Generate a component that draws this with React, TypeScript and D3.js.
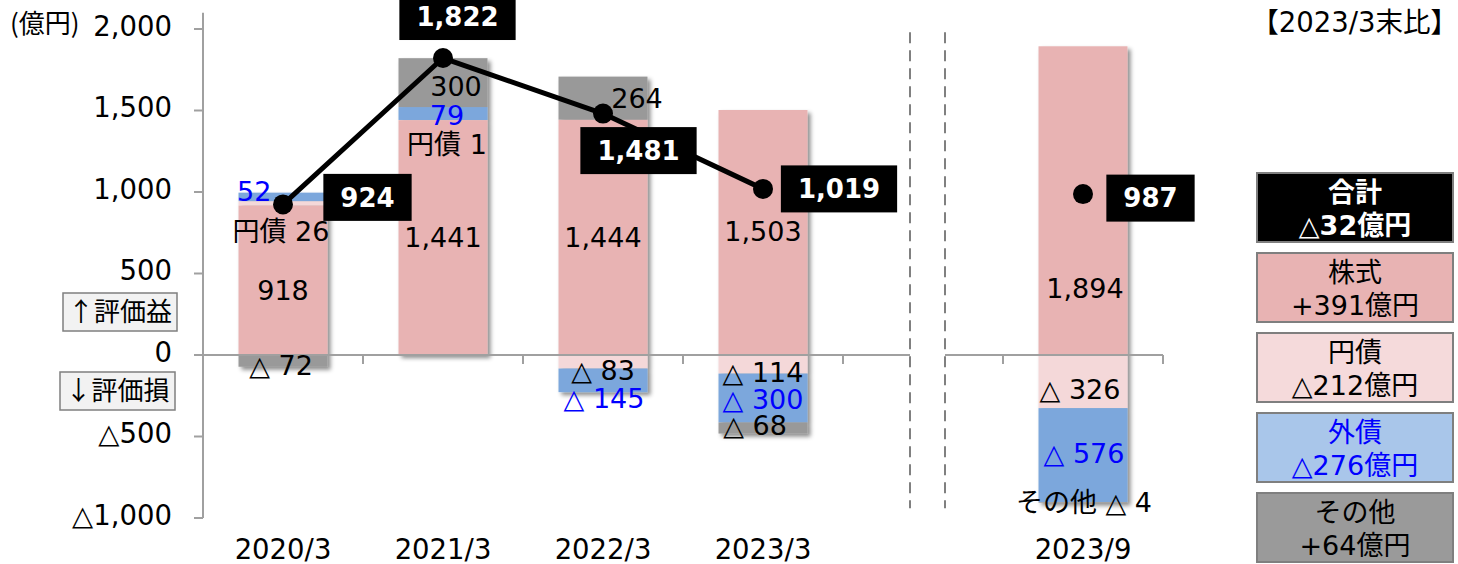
import React from 'react';
import * as d3 from 'd3';

// ---- data ----
const categories = ["2020/3", "2021/3", "2022/3", "2023/3", "2023/9"];
const slots = ["2020/3", "2021/3", "2022/3", "2023/3", "gap", "2023/9"];
const stocks = [918, 1441, 1444, 1503, 1894];
const yenBonds = [26, 1, -83, -114, -326];
const foreignBonds = [52, 79, -145, -300, -576];
const others = [-72, 300, 264, -68, -4];
const totals = [924, 1822, 1481, 1019, 987];
const connected = [true, true, true, true, false];
const yTicks = [-1000, -500, 0, 500, 1000, 1500, 2000];
const seriesKeys = ["stocks", "yenBonds", "foreignBonds", "others"];
const legendNames = ["合計", "株式", "円債", "外債", "その他"];
const legendChanges = ["△32億円", "+391億円", "△212億円", "△276億円", "+64億円"];
const unitLabel = "(億円)";
const compareLabel = "【2023/3末比】";
const gainLabel = "↑評価益";
const lossLabel = "↓評価損";

// ---- styles / layout ----
const W = 1458, H = 564;
const FONT = "'DejaVu Sans', 'Noto Sans CJK JP', sans-serif";
const CJK = "'Noto Sans CJK JP', sans-serif";
const barColors: Record<string, string> = {
  stocks: "#e8b3b3",
  yenBonds: "#f4d8d9",
  foreignBonds: "#7ba7dc",
  others: "#999999",
};
const legendFills = ["#000000", "#e8b3b3", "#f5dadb", "#a9c6ea", "#9a9a9a"];
const legendText = ["#ffffff", "#000000", "#000000", "#0000ff", "#000000"];
const BLUE = "#0000ff";
const AXIS = "#a0a0a0";

const labelLayout = [
  { s: "stocks", c: 0, dx: 0, dy: 10 },
  { s: "yenBonds", c: 0, dx: -2, dy: 28, prefix: "円債 " },
  { s: "foreignBonds", c: 0, dx: -46, dy: -6, anchor: "start" },
  { s: "others", c: 0, dx: -2, dy: 4 },
  { s: "stocks", c: 1, dx: 0, dy: 0 },
  { s: "yenBonds", c: 1, dx: 4, dy: 24, prefix: "円債 " },
  { s: "foreignBonds", c: 1, dx: 4, dy: 2 },
  { s: "others", c: 1, dx: 13, dy: 4 },
  { s: "stocks", c: 2, dx: 0, dy: 0 },
  { s: "others", c: 2, dx: 34, dy: 0 },
  { s: "yenBonds", c: 2, dx: 0, dy: 9 },
  { s: "foreignBonds", c: 2, dx: 1, dy: 18 },
  { s: "stocks", c: 3, dx: 0, dy: -1 },
  { s: "yenBonds", c: 3, dx: 0, dy: 8 },
  { s: "foreignBonds", c: 3, dx: 0, dy: 1 },
  { s: "others", c: 3, dx: -8, dy: -3 },
  { s: "stocks", c: 4, dx: 2, dy: 88 },
  { s: "yenBonds", c: 4, dx: -3, dy: 8 },
  { s: "foreignBonds", c: 4, dx: 1, dy: -2 },
  { s: "others", c: 4, dx: 1, dy: 0, prefix: "その他 " },
];
const totalBoxOffsets = [
  { dx: 84.5, dy: -7 },
  { dx: 14.5, dy: -41.5 },
  { dx: 35.5, dy: 37 },
  { dx: 76, dy: 0 },
  { dx: 67.5, dy: 4 },
];

const fmt = d3.format(",");
const fmtLabel = (v: number) => (v < 0 ? "△ " + fmt(-v) : fmt(v));
const fmtTick = (v: number) => (v < 0 ? "△" + fmt(-v) : fmt(v));
const boldWidth = (s: string, size: number) =>
  s.split("").reduce((a, ch) => a + (ch === "," ? 0.38 : 0.696), 0) * size;

export default function App() {
  const x = d3.scaleBand<string>().domain(slots).range([203, 1163]).padding(0);
  const y = d3.scaleLinear().domain([-1000, 2000]).range([518, 29]);
  const barW = 89;
  const cx = (i: number) => (x(categories[i]) as number) + x.bandwidth() / 2;

  const seriesData: Record<string, number[]> = { stocks, yenBonds, foreignBonds, others };
  const rows = categories.map((_, i) => {
    const r: Record<string, number> = {};
    seriesKeys.forEach((k) => (r[k] = seriesData[k][i]));
    return r;
  });
  const stacked = d3.stack<Record<string, number>>().keys(seriesKeys).offset(d3.stackOffsetDiverging)(rows);
  const stackByKey: Record<string, d3.Series<Record<string, number>, string>> = {};
  stacked.forEach((s) => (stackByKey[s.key] = s));

  const gapX = x("gap") as number;
  const dash1 = gapX + 67;
  const dash2 = gapX + 102;
  const y0 = y(0);

  const linePts = totals.map((t, i) => [cx(i), y(t)] as [number, number]).filter((_, i) => connected[i]);
  const line = d3.line();

  const legendTop = 173, legendH = 69, legendGap = 11, legendX = 1257, legendW = 196;

  return (
    <svg width={W} height={H} style={{ position: "absolute", left: 0, top: 0, background: "#fff" }} fontFamily={FONT}>
      <defs>
        <filter id="shadow" x="-20%" y="-20%" width="140%" height="140%">
          <feDropShadow dx="3" dy="3" stdDeviation="2.2" floodColor="#000" floodOpacity="0.45" />
        </filter>
      </defs>

      {/* bars */}
      {categories.map((c, i) => (
        <g key={c} filter="url(#shadow)">
          {seriesKeys.map((k) => {
            const d = stackByKey[k][i];
            const top = y(Math.max(d[0], d[1]));
            const bot = y(Math.min(d[0], d[1]));
            if (bot - top <= 0) return null;
            return <rect key={k} x={cx(i) - barW / 2} y={top} width={barW} height={bot - top} fill={barColors[k]} />;
          })}
        </g>
      ))}

      {/* y axis */}
      <line x1={203} x2={203} y1={y(2100)} y2={y(-1000)} stroke={AXIS} strokeWidth={2} />
      {yTicks.map((t) => (
        <g key={t}>
          <line x1={194} x2={203} y1={y(t)} y2={y(t)} stroke={AXIS} strokeWidth={2} />
          <text x={172} y={y(t) - 3} dy="0.36em" textAnchor="end" fontSize={27.5} fill="#000">
            {fmtTick(t)}
          </text>
        </g>
      ))}

      {/* x axis */}
      <line x1={203} x2={dash1} y1={y0} y2={y0} stroke={AXIS} strokeWidth={2} />
      <line x1={dash2} x2={1163} y1={y0} y2={y0} stroke={AXIS} strokeWidth={2} />
      {slots.map((s) => {
        const bx = (x(s) as number) + x.bandwidth();
        return <line key={s} x1={bx} x2={bx} y1={y0} y2={y0 + 9} stroke={AXIS} strokeWidth={2} />;
      })}
      {categories.map((c, i) => (
        <text key={c} x={cx(i)} y={y(-1000) + 31} dy="0.36em" textAnchor="middle" fontSize={27.5}>
          {c}
        </text>
      ))}

      {/* dashed separators */}
      {[dash1, dash2].map((dx, k) => (
        <line key={k} x1={dx} x2={dx} y1={y(1980)} y2={y(-940)} stroke="#808080" strokeWidth={2} strokeDasharray="11 7" />
      ))}

      {/* segment labels */}
      {labelLayout.map((l, j) => {
        const d = stackByKey[l.s][l.c];
        const v = seriesData[l.s][l.c];
        const yy = y((d[0] + d[1]) / 2) + l.dy;
        return (
          <text
            key={j}
            x={cx(l.c) + l.dx}
            y={yy}
            dy="0.36em"
            textAnchor={(l as any).anchor || "middle"}
            fontSize={27}
            fill={l.s === "foreignBonds" ? BLUE : "#000"}
          >
            {((l as any).prefix || "") + fmtLabel(v)}
          </text>
        );
      })}

      {/* total line */}
      <path d={line(linePts) || ""} fill="none" stroke="#000" strokeWidth={5} strokeLinejoin="round" />
      {totals.map((t, i) => (
        <circle key={i} cx={cx(i)} cy={y(t)} r={10} fill="#000" />
      ))}
      {totals.map((t, i) => {
        const s = fmt(t);
        const bw = boldWidth(s, 26) + 34;
        const bx = cx(i) + totalBoxOffsets[i].dx;
        const by = y(t) + totalBoxOffsets[i].dy;
        return (
          <g key={"tb" + i}>
            <rect x={bx - bw / 2} y={by - 23.5} width={bw} height={47} fill="#000" />
            <text x={bx} y={by} dy="0.36em" textAnchor="middle" fontSize={26} fontWeight="bold" fill="#fff">
              {s}
            </text>
          </g>
        );
      })}

      {/* unit, gain/loss tags */}
      <text x={10} y={24} dy="0.36em" fontSize={26} fontFamily={CJK}>
        {unitLabel}
      </text>
      {[
        { t: gainLabel, x0: 63, x1: 177, cyy: y0 - 43 },
        { t: lossLabel, x0: 60, x1: 175, cyy: y0 + 36 },
      ].map((b, k) => (
        <g key={k}>
          <rect x={b.x0} y={b.cyy - 19} width={b.x1 - b.x0} height={38} fill="#f2f2f2" stroke="#7f7f7f" strokeWidth={1.5} />
          <text x={(b.x0 + b.x1) / 2} y={b.cyy} dy="0.36em" textAnchor="middle" fontSize={26} fontFamily={CJK}>
            {b.t}
          </text>
        </g>
      ))}

      {/* compare label */}
      <text x={1458} y={22} dy="0.36em" textAnchor="end" fontSize={27.5}>
        {compareLabel}
      </text>

      {/* legend */}
      {legendNames.map((n, i) => {
        const top = legendTop + i * (legendH + legendGap);
        const bold = i === 0;
        return (
          <g key={n}>
            <rect x={legendX} y={top} width={legendW} height={legendH} fill={legendFills[i]} stroke="#7f7f7f" strokeWidth={2} />
            <text x={legendX + legendW / 2} y={top + 19} dy="0.36em" textAnchor="middle" fontSize={27} fontWeight={bold ? "bold" : "normal"} fill={legendText[i]}>
              {n}
            </text>
            <text x={legendX + legendW / 2} y={top + 52} dy="0.36em" textAnchor="middle" fontSize={27} fontWeight={bold ? "bold" : "normal"} fill={legendText[i]}>
              {legendChanges[i]}
            </text>
          </g>
        );
      })}
    </svg>
  );
}
